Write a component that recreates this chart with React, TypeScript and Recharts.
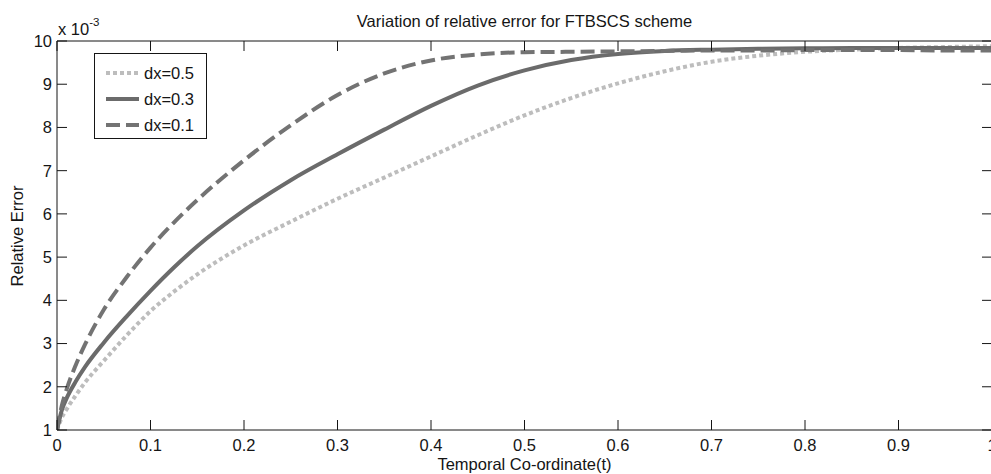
import { LineChart, Line, XAxis, YAxis, Legend } from "recharts";

// temporal coordinate samples
const T = [0, 0.005, 0.01, 0.02, 0.03, 0.05, 0.075, 0.1, 0.125, 0.15, 0.2, 0.25, 0.3, 0.35, 0.4, 0.45, 0.5, 0.55, 0.6, 0.65, 0.7, 0.75, 0.8, 0.85, 0.9, 0.95, 1.0];

// relative error (x 10^-3)
const DX05 = [1.0, 1.28, 1.47, 1.8, 2.1, 2.6, 3.2, 3.75, 4.2, 4.6, 5.27, 5.82, 6.35, 6.84, 7.33, 7.82, 8.28, 8.68, 9.02, 9.3, 9.52, 9.66, 9.75, 9.8, 9.84, 9.86, 9.88];
const DX03 = [1.0, 1.45, 1.72, 2.12, 2.46, 3.02, 3.64, 4.22, 4.76, 5.25, 6.08, 6.78, 7.38, 7.95, 8.5, 8.97, 9.32, 9.56, 9.7, 9.77, 9.8, 9.82, 9.83, 9.84, 9.84, 9.84, 9.84];
const DX01 = [1.0, 1.55, 1.92, 2.5, 2.98, 3.78, 4.55, 5.22, 5.8, 6.32, 7.24, 8.05, 8.75, 9.25, 9.55, 9.69, 9.74, 9.75, 9.76, 9.77, 9.78, 9.78, 9.79, 9.79, 9.79, 9.78, 9.78];

const X_TICKS = [0, 0.1, 0.2, 0.3, 0.4, 0.5, 0.6, 0.7, 0.8, 0.9, 1];
const Y_TICKS = [1, 2, 3, 4, 5, 6, 7, 8, 9, 10];

const SERIES = [
  { key: "dx05", name: "dx=0.5", color: "#bdbdbd", dash: "4 3" },
  { key: "dx03", name: "dx=0.3", color: "#6b6b6b", dash: undefined },
  { key: "dx01", name: "dx=0.1", color: "#737373", dash: "14 6" },
];

const data = T.map((t, i) => ({ t, dx05: DX05[i], dx03: DX03[i], dx01: DX01[i] }));

const FONT = "'Liberation Sans', Arial, sans-serif";
const INK = "#151515";

function LegendBox() {
  return (
    <div style={{ border: `1px solid ${INK}`, background: "#fff", width: 111, paddingTop: 6, height: 78, fontFamily: FONT }}>
      {SERIES.map((s) => (
        <div key={s.key} style={{ display: "flex", alignItems: "center", height: 26 }}>
          <svg width={44} height={26}>
            <line x1={11} x2={44} y1={13} y2={13} stroke={s.color} strokeWidth={4} strokeDasharray={s.dash} />
          </svg>
          <span style={{ marginLeft: 5, fontSize: 16.5, color: INK, lineHeight: "16px" }}>{s.name}</span>
        </div>
      ))}
    </div>
  );
}

export default function App() {
  const tickStyle = { fill: INK, fontSize: 16.5, fontFamily: FONT };
  const blank = () => "";
  return (
    <div style={{ position: "absolute", left: 0, top: 0, width: 991, height: 474, overflow: "hidden", background: "#fff", fontFamily: FONT }}>
      <div style={{ position: "absolute", left: 57, width: 935, top: 13, textAlign: "center", fontSize: 16.5, lineHeight: "16px", color: INK }}>
        Variation of relative error for FTBSCS scheme
      </div>
      <div style={{ position: "absolute", left: 58, top: 21, fontSize: 16.5, lineHeight: "16px", color: INK, whiteSpace: "nowrap" }}>
        x 10<span style={{ position: "relative", top: -9, fontSize: 11.5 }}>-3</span>
      </div>
      <div style={{ position: "absolute", left: 57, width: 935, top: 456, textAlign: "center", fontSize: 16.5, lineHeight: "16px", color: INK }}>
        Temporal Co-ordinate(t)
      </div>
      <div style={{ position: "absolute", left: 17 - 100, top: 235.5 - 8, width: 200, textAlign: "center", fontSize: 16.5, lineHeight: "16px", color: INK, transform: "rotate(-90deg)" }}>
        Relative Error
      </div>
      <div style={{ position: "absolute", left: 0, top: 0 }}>
        <LineChart width={1000} height={474} data={data} margin={{ top: 40, right: 0, bottom: 0, left: 17 }} style={{ fontFamily: FONT }}>
          <XAxis xAxisId="bottom" dataKey="t" type="number" domain={[0, 1]} ticks={X_TICKS} interval={0}
            allowDataOverflow tickSize={-10} tickMargin={19} height={44} stroke={INK} tick={tickStyle}
            tickFormatter={(v) => String(v)} />
          <XAxis xAxisId="top" orientation="top" dataKey="t" type="number" domain={[0, 1]} ticks={X_TICKS} interval={0}
            allowDataOverflow tickSize={-10} height={1} stroke={INK} tick={tickStyle} tickFormatter={blank} />
          <YAxis yAxisId="left" type="number" domain={[1, 10]} ticks={Y_TICKS} interval={0} allowDataOverflow
            tickSize={-10} tickMargin={15} width={40} stroke={INK} tick={tickStyle} />
          <YAxis yAxisId="right" orientation="right" type="number" domain={[1, 10]} ticks={Y_TICKS} interval={0}
            allowDataOverflow tickSize={-10} width={8} stroke={INK} tick={tickStyle} tickFormatter={blank} />
          <Legend layout="vertical" verticalAlign="middle" align="center" content={<LegendBox />}
            wrapperStyle={{ position: "absolute", left: 94, top: 53, width: "auto", height: "auto" }} />
          {SERIES.map((s) => (
            <Line key={s.key} xAxisId="bottom" yAxisId="left" type="monotone" dataKey={s.key} name={s.name}
              stroke={s.color} strokeWidth={4} strokeDasharray={s.dash} dot={false} activeDot={false}
              isAnimationActive={false} />
          ))}
        </LineChart>
      </div>
    </div>
  );
}
